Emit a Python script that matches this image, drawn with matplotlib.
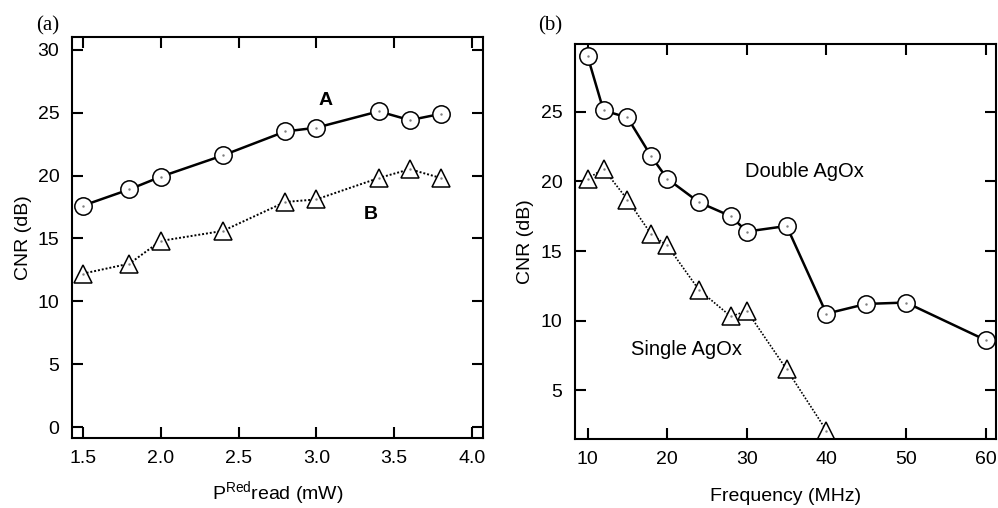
import matplotlib.pyplot as plt

plt.rcParams['font.family'] = ['Liberation Sans', 'DejaVu Sans']

# panel (a): CNR vs read power
power = [1.5, 1.8, 2.0, 2.4, 2.8, 3.0, 3.4, 3.6, 3.8]
cnr_a = [17.6, 18.9, 19.9, 21.6, 23.5, 23.8, 25.1, 24.4, 24.9]
cnr_b = [12.2, 13.0, 14.8, 15.6, 17.9, 18.1, 19.8, 20.5, 19.8]
power_ticks = [1.5, 2.0, 2.5, 3.0, 3.5, 4.0]
cnr_ticks_a = [0, 5, 10, 15, 20, 25, 30]

# panel (b): CNR vs frequency
freq_double = [10, 12, 15, 18, 20, 24, 28, 30, 35, 40, 45, 50, 60]
cnr_double = [29.0, 25.1, 24.6, 21.8, 20.2, 18.5, 17.5, 16.4, 16.8,
              10.5, 11.2, 11.3, 8.6]
freq_single = [10, 12, 15, 18, 20, 24, 28, 30, 35, 40]
cnr_single = [20.2, 20.9, 18.7, 16.2, 15.4, 12.2, 10.3, 10.7, 6.5, 2.1]
freq_ticks = [10, 20, 30, 40, 50, 60]
cnr_ticks_b = [5, 10, 15, 20, 25]

fig = plt.figure(figsize=(9.98, 5.08), dpi=100)
ax1 = fig.add_axes([0.072, 0.138, 0.412, 0.789])
ax2 = fig.add_axes([0.576, 0.136, 0.422, 0.778])

circ = dict(marker='o', markersize=12.5, markerfacecolor='white',
            markeredgecolor='black', markeredgewidth=1.1, color='black')
tri = dict(marker='^', markersize=13.5, markerfacecolor='white',
           markeredgecolor='black', markeredgewidth=1.1, color='black')
dot = dict(linestyle='none', marker='.', markersize=1.5, color='0.5')

ax1.plot(power, cnr_a, linestyle='-', linewidth=1.8, **circ)
ax1.plot(power, cnr_b, linestyle=(0, (1, 1)), linewidth=1.4, **tri)
ax1.plot(power, cnr_a, **dot)
ax1.plot(power, cnr_b, **dot)
ax1.set_xlim(1.43, 4.07)
ax1.set_ylim(-0.85, 31.0)
ax1.set_xticks(power_ticks)
ax1.set_xticklabels([f'{t:.1f}' for t in power_ticks])
ax1.set_yticks(cnr_ticks_a)
ax1.set_xlabel('P$^{\\mathregular{Red}}$read (mW)', fontsize=14, labelpad=9)
ax1.set_ylabel('CNR (dB)', fontsize=14, labelpad=4)
ax1.text(3.06, 26.0, 'A', fontsize=14, fontweight='bold', ha='center', va='center')
ax1.text(3.35, 16.9, 'B', fontsize=14, fontweight='bold', ha='center', va='center')

ax2.plot(freq_double, cnr_double, linestyle='-', linewidth=1.8, **circ)
ax2.plot(freq_single, cnr_single, linestyle=(0, (1, 1)), linewidth=1.2, **tri)
ax2.plot(freq_double, cnr_double, **dot)
ax2.plot(freq_single, cnr_single, **dot)
ax2.set_xlim(8.4, 61.3)
ax2.set_ylim(1.5, 29.9)
ax2.set_xticks(freq_ticks)
ax2.set_yticks(cnr_ticks_b)
ax2.set_xlabel('Frequency (MHz)', fontsize=14, labelpad=14)
ax2.set_ylabel('CNR (dB)', fontsize=14, labelpad=5)
ax2.text(37.2, 20.7, 'Double AgOx', fontsize=14.5, ha='center', va='center')
ax2.text(22.4, 7.9, 'Single AgOx', fontsize=14.5, ha='center', va='center')

for ax in (ax1, ax2):
    for s in ax.spines.values():
        s.set_linewidth(1.5)
    ax.tick_params(direction='in', length=8, width=1.5, top=True, right=True,
                   labelsize=14, pad=9)

fig.text(0.048, 0.95, '(a)', family='Liberation Serif', fontsize=15, ha='center', va='center')
fig.text(0.551, 0.95, '(b)', family='Liberation Serif', fontsize=15, ha='center', va='center')

fig.savefig('out.png', dpi=100)
